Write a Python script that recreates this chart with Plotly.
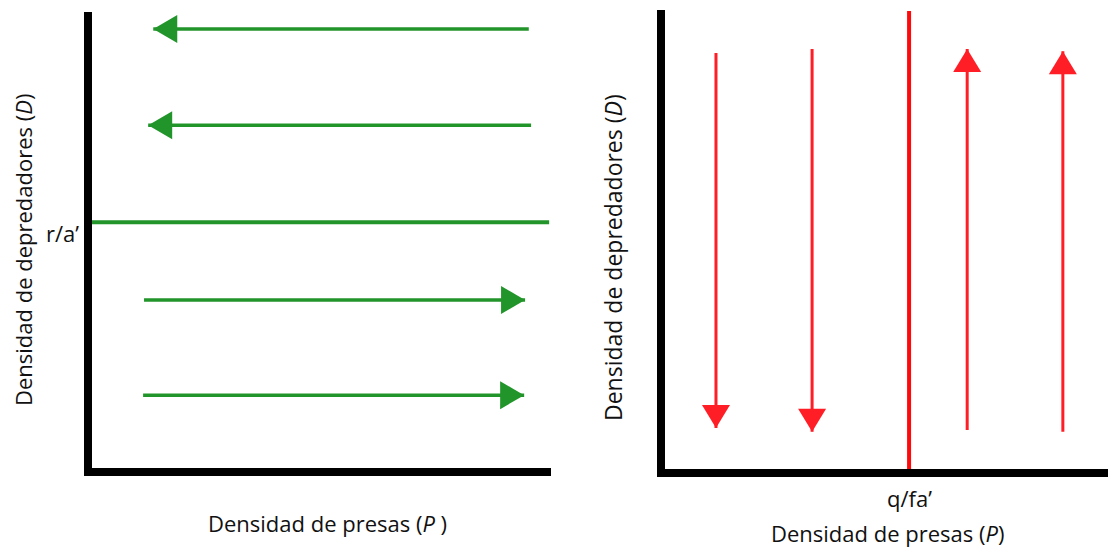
import plotly.graph_objects as go

# ---- data -------------------------------------------------------------
# Left panel: predator isocline (dD/dt = 0) at D = r/a', prey trajectories
R_A = 5.43                      # D value of the r/a' isocline
GREEN_D = [9.63, 7.54, 3.74, 1.67]          # predator density of each arrow
GREEN_P_START = [9.52, 9.57, 1.21, 1.19]    # prey density where arrow starts
GREEN_P_END = [1.41, 1.30, 9.44, 9.42]      # prey density at the arrow tip
ISO_P_END = 9.96

# Right panel: prey isocline at P = q/fa', predator trajectories
Q_FA = 5.55
RED_P = [1.23, 3.38, 6.85, 8.99]
RED_D_START = [9.07, 9.16, 0.93, 0.89]
RED_D_END = [0.97, 0.89, 9.16, 9.11]
ISO_D_END = 9.98

Y_TITLE = "Densidad de depredadores (<i>D</i>)"
X_TITLE_L = "Densidad de presas (<i>P</i> )"
X_TITLE_R = "Densidad de presas (<i>P</i>)"
TICK_L = "r/a\u2019"
TICK_R = "q/fa\u2019"

# ---- layout helpers ---------------------------------------------------
W, H = 1108, 547
GREEN = "#22952a"
RED = "#ff1e26"
FONT = "Open Sans"


def px(x):
    return x / W


def py(y):
    return 1 - y / H


fig = go.Figure()

# green trajectories (left panel)
for d, p0, p1 in zip(GREEN_D, GREEN_P_START, GREEN_P_END):
    fig.add_trace(go.Scatter(x=[p0, p1], y=[d, d], mode="lines",
                             line=dict(color=GREEN, width=3.5),
                             xaxis="x", yaxis="y", hoverinfo="skip"))
    path = "M0,0L-24,14L-24,-14Z" if p1 > p0 else "M0,0L24,14L24,-14Z"
    fig.add_shape(type="path", xref="x", yref="y", xsizemode="pixel",
                  ysizemode="pixel", xanchor=p1, yanchor=d, path=path,
                  fillcolor=GREEN, line=dict(width=0))

# r/a' isocline
fig.add_trace(go.Scatter(x=[0, ISO_P_END], y=[R_A, R_A], mode="lines",
                         line=dict(color=GREEN, width=4),
                         xaxis="x", yaxis="y", hoverinfo="skip"))

# red trajectories (right panel)
for p, d0, d1 in zip(RED_P, RED_D_START, RED_D_END):
    fig.add_trace(go.Scatter(x=[p, p], y=[d0, d1], mode="lines",
                             line=dict(color=RED, width=3),
                             xaxis="x2", yaxis="y2", hoverinfo="skip"))
    path = "M0,0L-14,-23L14,-23Z" if d1 > d0 else "M0,0L-14,23L14,23Z"
    fig.add_shape(type="path", xref="x2", yref="y2", xsizemode="pixel",
                  ysizemode="pixel", xanchor=p, yanchor=d1, path=path,
                  fillcolor=RED, line=dict(width=0))

# q/fa' isocline
fig.add_trace(go.Scatter(x=[Q_FA, Q_FA], y=[0, ISO_D_END], mode="lines",
                         line=dict(color="#ff0a0a", width=4),
                         xaxis="x2", yaxis="y2", hoverinfo="skip"))

# thick black axes
axis_lines = [
    (88, 12, 88, 476), (84, 472, 551, 472),
    (661, 10, 661, 477), (657, 473, 1108, 473),
]
for x0, y0, x1, y1 in axis_lines:
    fig.add_shape(type="line", xref="paper", yref="paper",
                  x0=px(x0), y0=py(y0), x1=px(x1), y1=py(y1),
                  line=dict(color="black", width=8))

ax_common = dict(showgrid=False, zeroline=False, showline=False,
                 showticklabels=False, ticks="", range=[0, 10], fixedrange=True)

fig.update_layout(
    width=W, height=H,
    margin=dict(l=0, r=0, t=0, b=0),
    paper_bgcolor="white", plot_bgcolor="rgba(0,0,0,0)",
    showlegend=False,
    font=dict(family=FONT, color="#111111", size=22),
    xaxis=dict(domain=[px(88), px(551)], anchor="y", **ax_common),
    yaxis=dict(domain=[py(472), py(12)], anchor="x", **ax_common),
    xaxis2=dict(domain=[px(661), 1], anchor="y2", **ax_common),
    yaxis2=dict(domain=[py(473), py(10)], anchor="x2", **ax_common),
)

centre = dict(xanchor="center", yanchor="middle", showarrow=False)
ann = [
    dict(text=Y_TITLE, x=px(23), y=py(250), xref="paper", yref="paper",
         textangle=-90, font=dict(size=22), **centre),
    dict(text=Y_TITLE, x=px(613), y=py(258), xref="paper", yref="paper",
         textangle=-90, font=dict(size=23), **centre),
    dict(text=X_TITLE_L, x=px(327), y=py(523), xref="paper", yref="paper",
         font=dict(size=22), **centre),
    dict(text=X_TITLE_R, x=px(887), y=py(533), xref="paper", yref="paper",
         font=dict(size=22), **centre),
    dict(text=TICK_L, x=px(81), y=R_A, xref="paper", yref="y",
         xanchor="right", yanchor="middle", yshift=-11, showarrow=False,
         font=dict(size=22)),
    dict(text=TICK_R, x=Q_FA, y=py(498), xref="x2", yref="paper",
         font=dict(size=22), **centre),
]
fig.update_layout(annotations=ann)

fig.write_html("out.html")
